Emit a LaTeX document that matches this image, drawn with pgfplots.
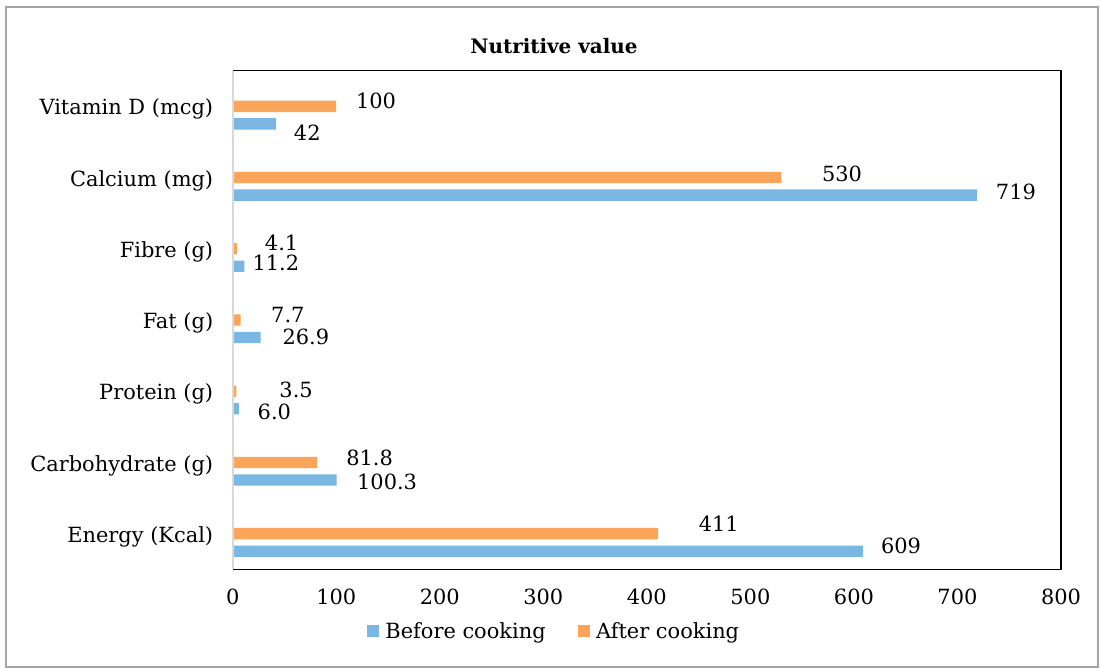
\documentclass[border=0pt]{standalone}
\usepackage{fontspec}
\setmainfont{DejaVu Serif}
\usepackage{pgfplots}
\usepackage{pgfplotstable}
\pgfplotsset{compat=1.18}
\definecolor{barblue}{RGB}{122,183,226}
\definecolor{barorange}{RGB}{250,165,90}
\definecolor{framegray}{RGB}{165,165,165}
\definecolor{axisgray}{RGB}{217,217,217}

\pgfplotstableread{
y before after
0 609 411
1 100.3 81.8
2 6.0 3.5
3 26.9 7.7
4 11.2 4.1
5 719 530
6 42 100
}\nutri

\pgfplotstableread{
x y lab
119 6.073 100
569 5.052 530
31 4.079 4.1
37 3.072 7.7
45 2.018 3.5
109.5 1.059 81.8
450 0.136 411
}\afterlab

\pgfplotstableread{
x y lab
59 5.632 42
737 4.803 719
19 3.798 11.2
48 2.758 26.9
24 1.713 6.0
120 0.730 100.3
626 -0.173 609
}\beforelab

\newcommand{\lblfont}{\fontsize{21}{24}\selectfont}

\begin{document}
\begin{tikzpicture}[x=1bp,y=1bp]
\path (-232.7,-100.7) rectangle (868.3,569.3);
\draw[framegray, line width=1.2bp] (-226.7,-97.7) rectangle (865.3,562.3);
\begin{axis}[
  at={(0,0)}, anchor=south west,
  scale only axis, width=828.3bp, height=498.6bp,
  clip=false,
  xmin=0, xmax=800, ymin=-0.5, ymax=6.5,
  xtick={0,100,...,800}, ytick={0,...,6},
  yticklabels={Energy (Kcal), Carbohydrate (g), Protein (g), Fat (g), Fibre (g), Calcium (mg), Vitamin D (mcg)},
  major tick length=0pt,
  axis line style={draw=none},
  tick label style={font=\lblfont},
  /pgf/number format/assume math mode=true,
  xticklabel style={yshift=-16bp},
  yticklabel style={xshift=-16bp, yshift=-3bp},
  title={\textbf{Nutritive value}},
  title style={font=\fontsize{20}{23}\selectfont, at={(axis description cs:0.3879,1)}, anchor=center, yshift=18.5bp},
  legend image code/.code={\fill[#1] (0bp,-5.5bp) rectangle (11bp,5.5bp);},
  legend style={at={(axis description cs:0.3880,-0.1237)}, anchor=center, draw=none, fill=none, font=\lblfont,
    /tikz/every odd column/.append style={column sep=0bp},
    /tikz/every even column/.append style={column sep=30bp}},
  legend columns=2,
]
\addplot[forget plot, xbar, bar width=0.16, bar shift=0, fill=barorange, draw=none] table[x=after, y=y] {\nutri};
\addplot[forget plot, xbar, bar width=0.16, bar shift=-0.246, fill=barblue, draw=none] table[x=before, y=y] {\nutri};

\addplot[forget plot, draw=none, mark=none, nodes near coords, point meta=explicit symbolic,
  nodes near coords align={anchor=west},
  every node near coord/.append style={anchor=west, inner sep=0pt, font=\lblfont, text=black}]
  table[x=x, y=y, meta=lab] {\afterlab};
\addplot[forget plot, draw=none, mark=none, nodes near coords, point meta=explicit symbolic,
  nodes near coords align={anchor=west},
  every node near coord/.append style={anchor=west, inner sep=0pt, font=\lblfont, text=black}]
  table[x=x, y=y, meta=lab] {\beforelab};

\draw[black, line width=1.3bp] (axis cs:0,6.5) -- (axis cs:800,6.5) -- (axis cs:800,-0.5) -- (axis cs:0,-0.5);
\draw[axisgray, line width=2bp] (axis cs:0,-0.5) -- (axis cs:0,6.5);

\addlegendimage{barblue}
\addlegendentry{\hspace{5bp}Before cooking}
\addlegendimage{barorange}
\addlegendentry{\hspace{5bp}After cooking}
\end{axis}
\end{tikzpicture}
\end{document}
